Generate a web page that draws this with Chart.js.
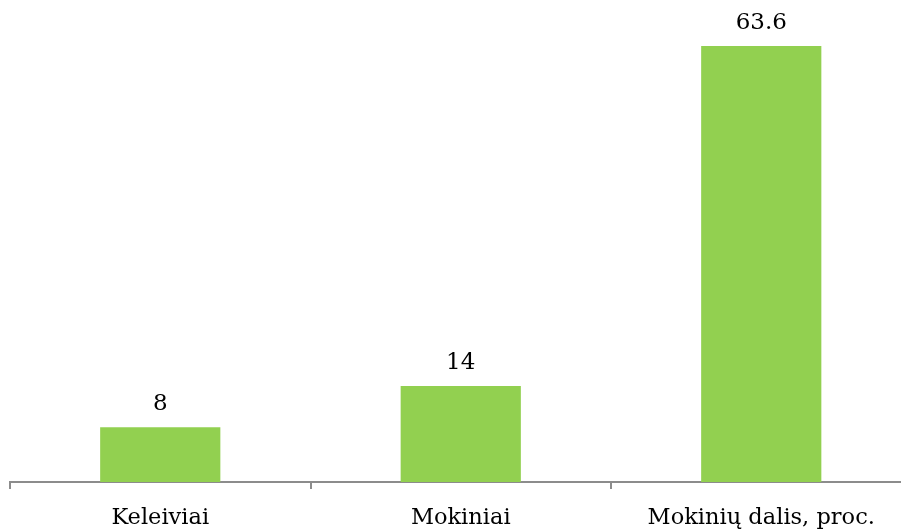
<!DOCTYPE html>
<html>
<head>
<meta charset="utf-8">
<script src="https://cdn.jsdelivr.net/npm/chart.js@4/dist/chart.umd.min.js"></script>
<style>
html,body{margin:0;padding:0;background:#fff;overflow:hidden;width:901px;height:531px;}
#wrap{width:920px;height:531px;position:relative;}
</style>
</head>
<body>
<div id="wrap"><canvas id="c" width="920" height="531"></canvas></div>
<script>
const categories = ["Keleiviai", "Mokiniai", "Mokinių dalis, proc."];
const values = [8, 14, 63.6];
const valueLabels = ["8", "14", "63.6"];

const FONT = "'DejaVu Serif', serif";

const dataLabelPlugin = {
  id: 'dataLabels',
  afterDatasetsDraw(chart) {
    const ctx = chart.ctx;
    const meta = chart.getDatasetMeta(0);
    ctx.save();
    ctx.font = "23px " + FONT;
    ctx.fillStyle = "#000";
    ctx.textAlign = "center";
    ctx.textBaseline = "alphabetic";
    meta.data.forEach((bar, i) => {
      ctx.fillText(valueLabels[i], bar.x, bar.y - 17);
    });
    ctx.restore();
  }
};

new Chart(document.getElementById('c'), {
  type: 'bar',
  data: {
    labels: categories,
    datasets: [{
      data: values,
      backgroundColor: '#92d050',
      borderWidth: 0,
      categoryPercentage: 1.0,
      barPercentage: 0.4
    }]
  },
  options: {
    responsive: false,
    animation: false,
    devicePixelRatio: 1,
    layout: { padding: { left: 10, right: 8.5, top: 2, bottom: 0 } },
    plugins: { legend: { display: false }, tooltip: { enabled: false } },
    scales: {
      y: {
        display: false,
        min: 0,
        max: 70
      },
      x: {
        offset: true,
        border: { display: true, color: '#8c8c8c', width: 2 },
        grid: {
          display: true,
          offset: true,
          drawOnChartArea: false,
          drawTicks: true,
          tickLength: 7,
          color: '#8c8c8c',
          lineWidth: 2
        },
        ticks: {
          color: '#000',
          font: { family: FONT, size: 22.5 },
          padding: 16,
          maxRotation: 0,
          autoSkip: false
        },
        afterFit(scale) { scale.height = 49; }
      }
    }
  },
  plugins: [dataLabelPlugin]
});
</script>
</body>
</html>
